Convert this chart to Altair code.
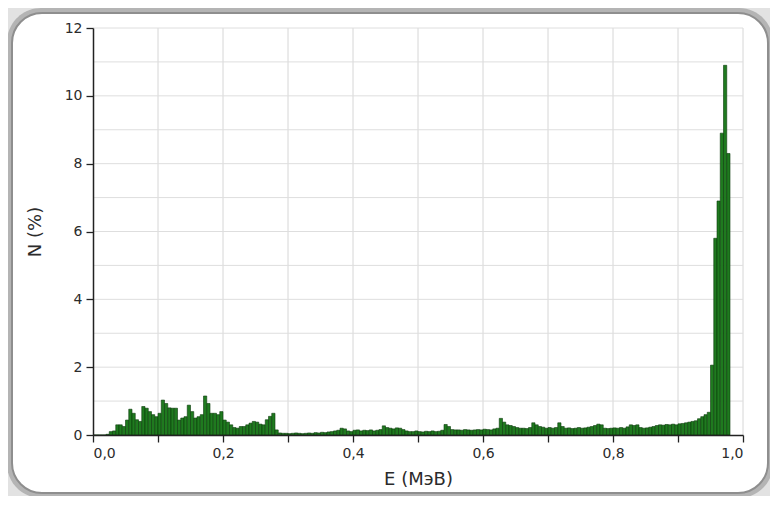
import altair as alt
import pandas as pd

# Histogram of energy spectrum, bin width 0.005 MeV, bins starting at 0.0
bin_width = 0.005
counts = [
    # b0-b4
    0.0, 0.0, 0.0, 0.0, 0.02,
    # b5-b14
    0.1, 0.12, 0.3, 0.3, 0.25, 0.44, 0.76, 0.64, 0.45, 0.4,
    # b15-b24
    0.84, 0.79, 0.69, 0.6, 0.54, 0.64, 1.03, 0.93, 0.8, 0.79,
    # b25-b34
    0.79, 0.44, 0.5, 0.54, 0.88, 0.69, 0.5, 0.54, 0.6, 1.15,
    # b35-b44
    0.93, 0.64, 0.64, 0.6, 0.69, 0.44, 0.38, 0.3, 0.22, 0.2,
    # b45-b56
    0.25, 0.25, 0.3, 0.35, 0.4, 0.38, 0.32, 0.3, 0.45, 0.55, 0.64, 0.15,
    # b57-b75
    0.06, 0.05, 0.05, 0.04, 0.05, 0.06, 0.05, 0.04, 0.05, 0.06,
    0.05, 0.07, 0.06, 0.08, 0.07, 0.09, 0.1, 0.12, 0.14,
    # b76-b88
    0.2, 0.18, 0.12, 0.1, 0.14, 0.15, 0.12, 0.14, 0.13, 0.15, 0.12, 0.14, 0.16,
    # b89-b97
    0.27, 0.22, 0.2, 0.18, 0.21, 0.2, 0.16, 0.12, 0.1,
    # b98-b107
    0.1, 0.12, 0.1, 0.09, 0.11, 0.1, 0.12, 0.1, 0.11, 0.14,
    # b108-b124
    0.31, 0.25, 0.16, 0.15, 0.15, 0.14, 0.16, 0.15, 0.14, 0.15, 0.16, 0.15,
    0.17, 0.16, 0.15, 0.18, 0.2,
    # b125-b142
    0.49, 0.38, 0.3, 0.28, 0.25, 0.22, 0.2, 0.2, 0.19, 0.22, 0.36, 0.3,
    0.25, 0.23, 0.2, 0.22, 0.2, 0.22,
    # b143-b156
    0.36, 0.25, 0.2, 0.21, 0.19, 0.2, 0.22, 0.2, 0.21, 0.23, 0.25, 0.28, 0.32, 0.3,
    # b157-b173
    0.2, 0.19, 0.2, 0.21, 0.2, 0.22, 0.2, 0.24, 0.3, 0.28, 0.3,
    0.22, 0.2, 0.21, 0.23, 0.25, 0.28,
    # b174-b189
    0.3, 0.29, 0.31, 0.3, 0.32, 0.3, 0.33, 0.34, 0.36, 0.38, 0.4,
    0.42, 0.48, 0.54, 0.6, 0.67,
    # b190-b195
    2.06, 5.8, 6.9, 8.9, 10.9, 8.3,
]

x_ticks = [0.0, 0.1, 0.2, 0.3, 0.4, 0.5, 0.6, 0.7, 0.8, 0.9, 1.0]
y_ticks = [0, 1, 2, 3, 4, 5, 6, 7, 8, 9, 10, 11, 12]
x_grid = [0.1, 0.2, 0.3, 0.4, 0.5, 0.6, 0.7, 0.8, 0.9, 1.0]
y_grid = [1, 2, 3, 4, 5, 6, 7, 8, 9, 10, 11, 12]

df = pd.DataFrame({
    "e0": [round(i * bin_width, 4) for i in range(len(counts))],
    "e1": [round((i + 1) * bin_width, 4) for i in range(len(counts))],
    "n": counts,
})

W, H = 650, 407
FONT = "DejaVu Sans"

xscale = alt.Scale(domain=[0, 1], nice=False, zero=True)
yscale = alt.Scale(domain=[0, 12], nice=False)

shadow = alt.Chart(alt.Data(values=[{"a": 1}])).mark_rect(
    fill="#b4b4b4", cornerRadius=34
).encode(
    x=alt.value(-86), x2=alt.value(680), y=alt.value(-20), y2=alt.value(470)
)

frame = alt.Chart(alt.Data(values=[{"a": 1}])).mark_rect(
    fill="white", stroke="#8e8e8e", strokeWidth=2, cornerRadius=30
).encode(
    x=alt.value(-81), x2=alt.value(675), y=alt.value(-15), y2=alt.value(465)
)

vgrid = alt.Chart(pd.DataFrame({"g": x_grid})).mark_rule(
    color="#d6d6d6", strokeWidth=1
).encode(x=alt.X("g:Q", scale=xscale))

hgrid = alt.Chart(pd.DataFrame({"g": y_grid})).mark_rule(
    color="#dedede", strokeWidth=1
).encode(y=alt.Y("g:Q", scale=yscale))

bars = alt.Chart(df).mark_rect(
    fill="#1f7a1f", stroke="#0c3a0c", strokeWidth=0.6
).encode(
    x=alt.X(
        "e0:Q", scale=xscale,
        axis=alt.Axis(
            values=x_ticks, title="E (МэВ)", grid=False, zindex=1,
            labelExpr="(round(datum.value*10) % 2 == 0) ? replace(format(datum.value, '.1f'), '.', ',') : ''",
            tickSize=7, labelPadding=4, titlePadding=10,
        ),
    ),
    x2="e1:Q",
    y=alt.Y(
        "n:Q", scale=yscale,
        axis=alt.Axis(
            values=y_ticks, title="N (%)", grid=False, zindex=1,
            labelExpr="(datum.value % 2 == 0) ? format(datum.value, 'd') : ''",
            tickSize=7, labelPadding=4, titlePadding=20,
        ),
    ),
    y2=alt.datum(0),
)

chart = alt.layer(shadow, frame, vgrid, hgrid, bars).properties(
    width=W, height=H,
    autosize=alt.AutoSizeParams(type="none"),
    padding={"left": 85, "top": 20, "right": 27, "bottom": 61},
    background="#e2e2e2",
).configure_view(
    stroke=None
).configure_axis(
    domainColor="#222222", domainWidth=1.5, tickColor="#222222", tickWidth=1.3,
    labelFont=FONT, labelFontSize=14, labelColor="#2b2b2b",
    titleFont=FONT, titleFontSize=18, titleFontWeight="normal", titleColor="#2b2b2b",
)

chart.save("out.html", embed_options={"renderer": "svg", "actions": False})
